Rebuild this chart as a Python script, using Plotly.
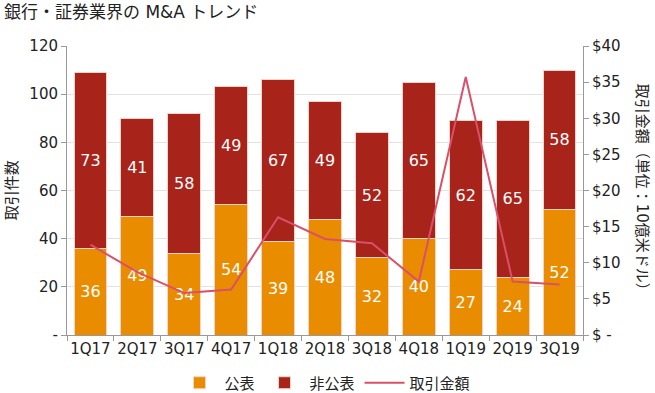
import plotly.graph_objects as go

quarters = ["1Q17", "2Q17", "3Q17", "4Q17", "1Q18", "2Q18", "3Q18", "4Q18", "1Q19", "2Q19", "3Q19"]
public_deals = [36, 49, 34, 54, 39, 48, 32, 40, 27, 24, 52]
private_deals = [73, 41, 58, 49, 67, 49, 52, 65, 62, 65, 58]
deal_value = [12.5, 8.7, 5.8, 6.3, 16.3, 13.3, 12.7, 7.4, 35.7, 7.4, 7.0]

left_ticks = [0, 20, 40, 60, 80, 100, 120]
left_ticktext = ["-", "20", "40", "60", "80", "100", "120"]
right_ticks = [0, 5, 10, 15, 20, 25, 30, 35, 40]
right_ticktext = ["$ -", "$5", "$10", "$15", "$20", "$25", "$30", "$35", "$40"]

ORANGE = "#EA8C00"
RED = "#A8231A"
PINK = "#D9506A"
FONT = "DejaVu Sans, Noto Sans CJK JP"

fig = go.Figure()
fig.add_trace(go.Bar(
    x=quarters, y=public_deals, name="公表",
    marker=dict(color=ORANGE, line=dict(color="#F6D2C8", width=1)),
    text=public_deals, textposition="inside", insidetextanchor="middle",
    textfont=dict(color="white", size=16, family=FONT),
))
fig.add_trace(go.Bar(
    x=quarters, y=private_deals, name="非公表",
    marker=dict(color=RED, line=dict(color="#F6D2C8", width=1)),
    text=private_deals, textposition="inside", insidetextanchor="middle",
    textfont=dict(color="white", size=16, family=FONT),
))
fig.add_trace(go.Scatter(
    x=quarters, y=deal_value, name="取引金額", mode="lines",
    line=dict(color=PINK, width=2), yaxis="y2",
))

fig.update_layout(
    width=655, height=393,
    barmode="stack", bargap=0.3,
    plot_bgcolor="white", paper_bgcolor="white",
    font=dict(family=FONT, size=15, color="#222222"),
    margin=dict(l=67, r=72, t=46, b=58, autoexpand=False),
    xaxis=dict(showline=True, linecolor="#999999", ticks="outside", tickson="boundaries",
               tickcolor="#999999", ticklen=5, tickfont=dict(size=15), tickangle=0),
    yaxis=dict(range=[0, 120], tickvals=left_ticks, ticktext=left_ticktext,
               showline=True, linecolor="#999999", ticks="outside", tickcolor="#999999", ticklen=5,
               gridcolor="#E3E3E3", zeroline=False, tickfont=dict(size=15)),
    yaxis2=dict(range=[0, 40], tickvals=right_ticks, ticktext=right_ticktext,
                overlaying="y", side="right", showline=True, linecolor="#999999",
                ticks="outside", tickcolor="#999999", ticklen=5, showgrid=False, zeroline=False,
                tickfont=dict(size=15)),
    legend=dict(orientation="h", x=0.5, xanchor="center", y=-0.166, yanchor="middle",
                font=dict(size=15), itemwidth=40, traceorder="normal"),
    annotations=[
        dict(text="銀行・証券業界の M&A トレンド", xref="paper", yref="paper", x=-0.126, y=1.118,
             xanchor="left", yanchor="middle", showarrow=False,
             font=dict(size=17, color="#222222", family=FONT)),
        dict(text="取引件数", xref="paper", yref="paper", x=-0.107, y=0.5, xanchor="center", yanchor="middle",
             textangle=-90, showarrow=False, font=dict(size=15, family=FONT)),
        dict(text="取引金額（単位：10億米ドル）", xref="paper", yref="paper", x=1.116, y=0.5,
             xanchor="center", yanchor="middle",
             textangle=90, showarrow=False, font=dict(size=15, family=FONT)),
    ],
)

fig.write_html("out.html", config={"displayModeBar": False},
               post_script="document.body.style.margin='0';document.body.style.overflow='hidden';")
